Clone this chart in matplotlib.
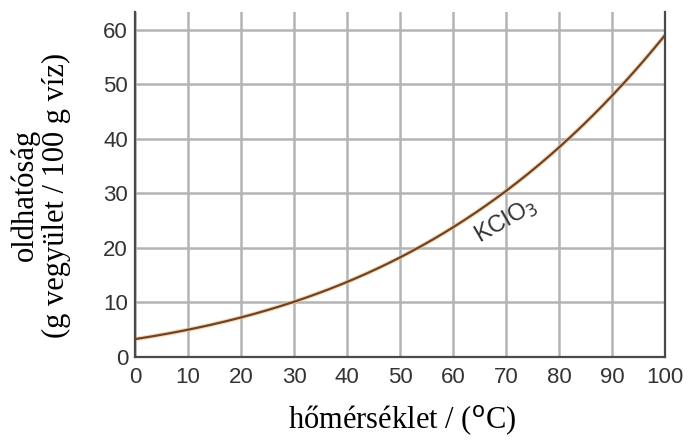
import numpy as np
import matplotlib
matplotlib.use("Agg")
from matplotlib import pyplot as plt

# KClO3 solubility
temp = [0, 10, 20, 30, 40, 50, 60, 70, 80, 90, 100]
solubility = [3.3, 5.0, 7.2, 10.1, 13.9, 18.3, 23.8, 30.2, 38.6, 48.0, 59.0]
x_ticks = [0, 10, 20, 30, 40, 50, 60, 70, 80, 90, 100]
y_ticks = [0, 10, 20, 30, 40, 50, 60]

fig = plt.figure(figsize=(6.93, 4.41), dpi=100)
ax = fig.add_axes([135 / 693, 1 - 357 / 441, 530 / 693, 345 / 441])

# smooth curve through the read points
xs = np.linspace(0, 100, 300)
coef = np.polyfit(temp, solubility, 4)
ax.plot(xs, np.polyval(coef, xs), color='#f0c08a', lw=3.2, alpha=0.6, solid_capstyle='round')
ax.plot(xs, np.polyval(coef, xs), color='#6e4326', lw=1.6)

ax.set_xlim(0, 100)
ax.set_ylim(0, 63.3)
ax.set_xticks(x_ticks)
ax.set_yticks(y_ticks)
ax.grid(True, color='#b4b4b4', lw=1.8)
ax.set_axisbelow(True)
ax.tick_params(axis='x', length=0, pad=7, labelsize=16, labelcolor='#333333')
ax.tick_params(axis='y', length=0, pad=5, labelsize=16, labelcolor='#333333')
for lab in ax.get_xticklabels() + ax.get_yticklabels():
    lab.set_family('Liberation Sans')

ax.spines['top'].set_visible(False)
for s in ['left', 'bottom', 'right']:
    ax.spines[s].set_color('#4a4a4a')
    ax.spines[s].set_linewidth(1.6)

ax.text(70, 25.0, 'KClO$_3$', rotation=30, fontsize=17, color='#333333',
        family='Liberation Sans', ha='center', va='center')

fig.text(402 / 693, 1 - 421 / 441, 'hőmérséklet / ($^{\\mathrm{o}}$C)', family='Liberation Serif',
         fontsize=22, ha='center', va='center')
fig.text(41 / 693, 1 - 195 / 441, 'oldhatóság\n(g vegyület / 100 g víz)', family='Liberation Serif',
         fontsize=22, ha='center', va='center', rotation=90, linespacing=1.1)

fig.savefig('out.png', dpi=100)
